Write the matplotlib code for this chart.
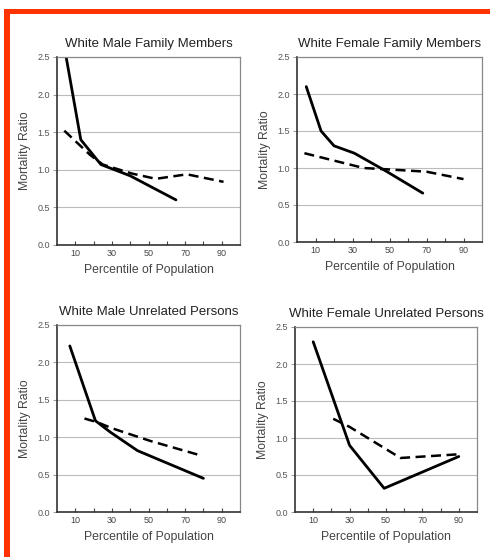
import numpy as np
import matplotlib.pyplot as plt
from matplotlib.patches import Rectangle

plt.rcParams['font.family'] = ['Liberation Sans', 'DejaVu Sans']

titres = ["White Male Family Members", "White Female Family Members",
          "White Male Unrelated Persons", "White Female Unrelated Persons"]

# courbe pleine
x_plein_1 = [5, 13, 24, 40, 65]
y_plein_1 = [2.5, 1.4, 1.07, 0.92, 0.6]
x_plein_2 = [5, 13, 20, 31, 48, 68]
y_plein_2 = [2.1, 1.5, 1.3, 1.2, 0.96, 0.66]
x_plein_3 = [7, 21, 29, 44, 80]
y_plein_3 = [2.22, 1.22, 1.07, 0.82, 0.45]
x_plein_4 = [10, 30, 49, 90]
y_plein_4 = [2.3, 0.9, 0.32, 0.75]

# courbe pointillee
x_tiret_1 = [4, 18, 25, 41, 54, 71, 91]
y_tiret_1 = [1.52, 1.2, 1.07, 0.95, 0.88, 0.94, 0.84]
x_tiret_2 = [4, 20, 36, 50, 70, 90]
y_tiret_2 = [1.2, 1.1, 1.0, 0.98, 0.95, 0.85]
x_tiret_3 = [15, 22, 30, 51, 78]
y_tiret_3 = [1.25, 1.2, 1.12, 0.95, 0.76]
x_tiret_4 = [21, 30, 58, 90]
y_tiret_4 = [1.26, 1.15, 0.73, 0.78]

pleins = [(x_plein_1, y_plein_1), (x_plein_2, y_plein_2), (x_plein_3, y_plein_3), (x_plein_4, y_plein_4)]
tirets = [(x_tiret_1, y_tiret_1), (x_tiret_2, y_tiret_2), (x_tiret_3, y_tiret_3), (x_tiret_4, y_tiret_4)]

fig = plt.figure(figsize=(4.9, 5.57), dpi=100)
W, H = 490, 557
# positions des axes en pixels (gauche, haut, droite, bas)
boites = [(57, 57, 240, 245), (297, 57, 482, 242), (57, 325, 240, 512), (295, 327, 477, 512)]

for k in range(4):
    g, h, d, b = boites[k]
    ax = fig.add_axes([g / W, 1 - b / H, (d - g) / W, (b - h) / H])
    ax.plot(pleins[k][0], pleins[k][1], color='black', lw=2.0, solid_capstyle='round')
    ax.plot(tirets[k][0], tirets[k][1], color='black', lw=1.8, dashes=(4, 2.2))
    ax.set_xlim(0, 100)
    ax.set_ylim(0, 2.5)
    ax.set_xticks([10, 30, 50, 70, 90])
    ax.set_xticks([20, 40, 60, 80], minor=True)
    ax.set_yticks([0, 0.5, 1.0, 1.5, 2.0, 2.5])
    ax.set_yticklabels(["0.0", "0.5", "1.0", "1.5", "2.0", "2.5"])
    ax.tick_params(axis='x', which='both', direction='in', length=3, width=0.8, color='#444444',
                   labelsize=6.5, labelcolor='#444444', pad=3)
    ax.tick_params(axis='y', direction='out', length=3, width=0.6, color='#888888',
                   labelsize=6.5, labelcolor='#555555', pad=2)
    ax.grid(axis='y', color='#bbbbbb', lw=0.8)
    ax.set_axisbelow(True)
    for s in ['top', 'right']:
        ax.spines[s].set_color('#888888')
        ax.spines[s].set_linewidth(0.9)
    for s in ['left', 'bottom']:
        ax.spines[s].set_color('#333333')
        ax.spines[s].set_linewidth(1.2)
    ax.set_title(titres[k], fontsize=9.5, pad=7, color='#222222')
    ax.set_xlabel("Percentile of Population", fontsize=8.8, color='#444444', labelpad=4)
    ax.set_ylabel("Mortality Ratio", fontsize=8.8, color='#444444', labelpad=5)

# cadre rouge
fig.add_artist(Rectangle((4 / W, 1 - 14 / H), 1, 5 / H, transform=fig.transFigure,
                         facecolor='#ff3300', edgecolor='none'))
fig.add_artist(Rectangle((4 / W, 0), 6 / W, 1 - 9 / H, transform=fig.transFigure,
                         facecolor='#ff3300', edgecolor='none'))

plt.savefig("out.png", dpi=100)
